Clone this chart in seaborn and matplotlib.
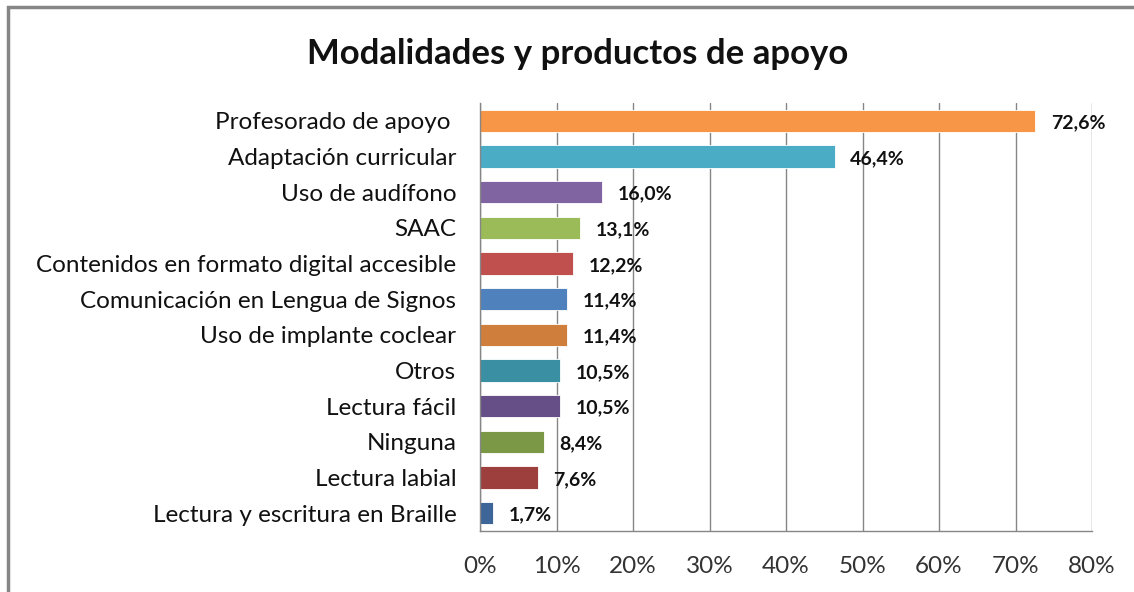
import matplotlib
matplotlib.use("Agg")
import matplotlib.pyplot as plt
import seaborn as sns
from matplotlib.patches import Rectangle

# DATA
categorias = [
    "Profesorado de apoyo ",
    "Adaptación curricular",
    "Uso de audífono",
    "SAAC",
    "Contenidos en formato digital accesible",
    "Comunicación en Lengua de Signos",
    "Uso de implante coclear",
    "Otros",
    "Lectura fácil",
    "Ninguna",
    "Lectura labial",
    "Lectura y escritura en Braille",
]
porcentajes = [72.6, 46.4, 16.0, 13.1, 12.2, 11.4, 11.4, 10.5, 10.5, 8.4, 7.6, 1.7]
colores = [
    "#F79646", "#4BACC6", "#8064A2", "#9BBB59", "#C0504D", "#4F81BD",
    "#D07E3C", "#3B8FA2", "#664E86", "#7A9846", "#9D3F3C", "#3E6598",
]
ticks_x = [0, 10, 20, 30, 40, 50, 60, 70, 80]

sns.set_style("white")
plt.rcParams["font.family"] = ["Lato", "DejaVu Sans"]

fig = plt.figure(figsize=(11.34, 5.92), dpi=100)
ax = fig.add_axes([0.4233, 0.103, 0.5397, 0.723])

sns.barplot(x=porcentajes, y=categorias, hue=categorias, palette=colores,
            saturation=1, legend=False, orient="h", width=0.62, ax=ax,
            edgecolor="white", linewidth=0.6)

ax.set_xlim(0, 80)
ax.set_ylim(11.5, -0.5)
ax.set_xticks(ticks_x)
ax.set_xticklabels([f"{t}%" for t in ticks_x], fontsize=17.5, color="#333333")
ax.tick_params(axis="y", length=0, pad=17, labelsize=17.5)
ax.tick_params(axis="x", length=6, width=1, color="#868686", pad=12)
ax.set_yticks(range(len(categorias)))
ax.set_yticklabels(categorias, color="#111111")
ax.set_yticks([i - 0.5 for i in range(len(categorias) + 1)], minor=True)
ax.tick_params(axis="y", which="minor", length=6, width=1, color="#868686")
ax.grid(axis="x", color="#868686", linewidth=1)
ax.set_axisbelow(True)
ax.set_xlabel("")
ax.set_ylabel("")
for s in ["top", "right"]:
    ax.spines[s].set_visible(False)
for s in ["left", "bottom"]:
    ax.spines[s].set_color("#868686")
    ax.spines[s].set_linewidth(1)

# etiquetas de datos
for i, v in enumerate(porcentajes):
    ax.text(v + 2.0, i + 0.05, f"{v:.1f}%".replace(".", ","), va="center",
            ha="left", fontsize=14, fontweight="bold", color="#111111")

fig.text(0.509, 0.908, "Modalidades y productos de apoyo", ha="center",
         va="center", fontsize=25, fontweight="bold", color="#111111")

# borde del gráfico
fig.patches.append(Rectangle((8 / 1134, -0.01), 1.02, 1 - 7 / 592 + 0.01,
                             transform=fig.transFigure, fill=False,
                             edgecolor="#868686", linewidth=2.5))

fig.savefig("out.png", dpi=100)
